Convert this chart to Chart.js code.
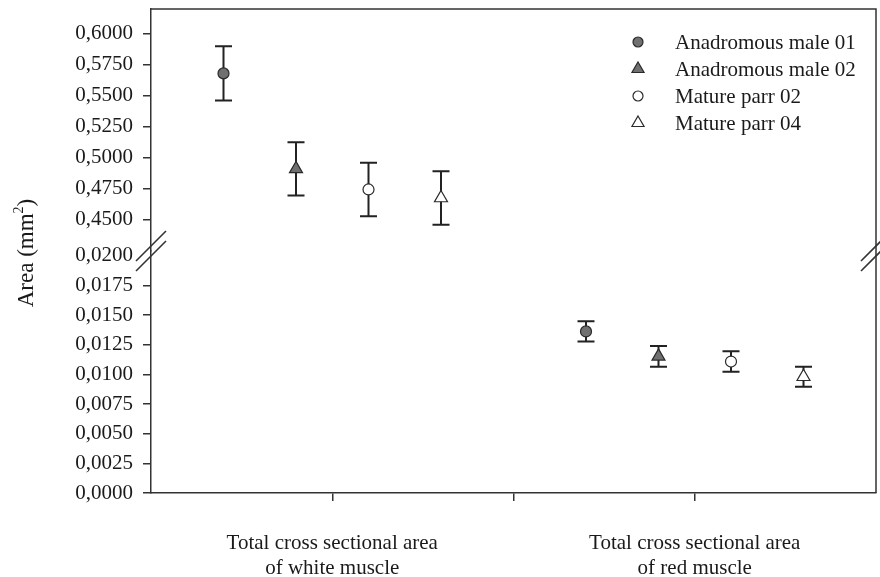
<!DOCTYPE html>
<html>
<head>
<meta charset="utf-8">
<script src="https://cdn.jsdelivr.net/npm/chart.js@4.4.1/dist/chart.umd.min.js"></script>
<style>
  html, body { margin: 0; padding: 0; background: #fff; }
</style>
</head>
<body>
<canvas id="chart" width="880" height="577"></canvas>
<script>
// data
const categories = [
    ['Total cross sectional area', 'of white muscle'],
    ['Total cross sectional area', 'of red muscle']
];
const seriesNames = ['Anadromous male 01', 'Anadromous male 02', 'Mature parr 02', 'Mature parr 04'];
const whiteMean = [0.5681, 0.4912, 0.4746, 0.4677];
const whiteErr = [0.0218, 0.0215, 0.0216, 0.0216];
const redMean = [0.01362, 0.01152, 0.01108, 0.00980];
const redErr = [0.00085, 0.00087, 0.00086, 0.00085];
const upperTicks = [0.45, 0.475, 0.5, 0.525, 0.55, 0.575, 0.6];
const lowerTicks = [0, 0.0025, 0.005, 0.0075, 0.01, 0.0125, 0.015, 0.0175, 0.02];

// group centres on the x axis and the spread of the four series around them
const groupX = [1, 3];
const seriesOffset = [-0.6, -0.2, 0.2, 0.6];
const seriesShape = ['circle', 'triangle', 'circle', 'triangle'];
const seriesFill = ['#707070', '#707070', '#ffffff', '#ffffff'];

const axisColor = '#333333';
const textColor = '#1a1a1a';
const serif = '"Liberation Serif", "Times New Roman", serif';
const font = { family: serif, size: 21, lineHeight: 1.2 };

function fmt(v) {
    return v.toFixed(4).replace('.', ',');
}

const datasets = [];
seriesNames.forEach((name, i) => {
    const style = {
        label: name,
        pointStyle: seriesShape[i],
        pointRadius: seriesShape[i] === 'circle' ? 5.5 : 7.5,
        pointBackgroundColor: seriesFill[i],
        pointBorderColor: '#2a2a2a',
        pointBorderWidth: 1.2,
        showLine: false
    };
    datasets.push(Object.assign({ yAxisID: 'yTop', data: [{ x: groupX[0] + seriesOffset[i], y: whiteMean[i] }], err: [whiteErr[i]] }, style));
    datasets.push(Object.assign({ yAxisID: 'yBot', data: [{ x: groupX[1] + seriesOffset[i], y: redMean[i] }], err: [redErr[i]] }, style));
});

// error bars, drawn under the markers
const errorBars = {
    id: 'errorBars',
    beforeDatasetsDraw(chart) {
        const ctx = chart.ctx;
        ctx.save();
        ctx.strokeStyle = '#222';
        ctx.lineWidth = 2;
        chart.data.datasets.forEach((ds, di) => {
            const meta = chart.getDatasetMeta(di);
            const ys = chart.scales[ds.yAxisID];
            meta.data.forEach((pt, j) => {
                const v = ds.data[j].y, e = ds.err[j];
                const hi = ys.getPixelForValue(v + e);
                const lo = ys.getPixelForValue(v - e);
                const x = pt.x;
                ctx.beginPath();
                ctx.moveTo(x, hi); ctx.lineTo(x, lo);
                ctx.moveTo(x - 8.5, hi); ctx.lineTo(x + 8.5, hi);
                ctx.moveTo(x - 8.5, lo); ctx.lineTo(x + 8.5, lo);
                ctx.stroke();
            });
        });
        ctx.restore();
    }
};

// frame, axis break marks, y title and legend
const decorations = {
    id: 'decorations',
    afterDraw(chart) {
        const ctx = chart.ctx;
        const a = chart.chartArea;
        ctx.save();
        ctx.strokeStyle = axisColor;
        ctx.lineWidth = 1.5;
        ctx.beginPath();
        ctx.moveTo(a.left, a.top);
        ctx.lineTo(a.right, a.top);
        ctx.lineTo(a.right, a.bottom);
        ctx.stroke();

        // break marks where the two stacked axes meet
        const yb = chart.scales.yTop.bottom;
        ctx.lineWidth = 1.6;
        [a.left, a.right].forEach(x => {
            [-5, 5].forEach(d => {
                ctx.beginPath();
                ctx.moveTo(x - 15, yb + d + 15);
                ctx.lineTo(x + 15, yb + d - 15);
                ctx.stroke();
            });
        });

        // y axis title with superscript
        ctx.fillStyle = textColor;
        ctx.translate(27, (a.top + a.bottom) / 2 + 2);
        ctx.rotate(-Math.PI / 2);
        ctx.textBaseline = 'middle';
        ctx.textAlign = 'left';
        const main = '23px ' + serif, sup = '14px ' + serif;
        ctx.font = main;
        const w1 = ctx.measureText('Area (mm').width;
        const w3 = ctx.measureText(')').width;
        ctx.font = sup;
        const w2 = ctx.measureText('2').width;
        let x0 = -(w1 + w2 + w3) / 2;
        ctx.font = main;
        ctx.fillText('Area (mm', x0, 0);
        ctx.font = sup;
        ctx.fillText('2', x0 + w1, -8);
        ctx.font = main;
        ctx.fillText(')', x0 + w1 + w2, 0);
        ctx.restore();

        // legend
        ctx.save();
        ctx.font = '21px ' + serif;
        ctx.textBaseline = 'middle';
        ctx.fillStyle = textColor;
        seriesNames.forEach((name, i) => {
            const cx = a.right - 238, cy = a.top + 33 + i * 27;
            ctx.fillStyle = seriesFill[i];
            ctx.strokeStyle = '#2a2a2a';
            ctx.lineWidth = 1.2;
            Chart.helpers.drawPoint(ctx, {
                pointStyle: seriesShape[i],
                radius: seriesShape[i] === 'circle' ? 5 : 7,
                borderWidth: 1.2
            }, cx, cy);
            ctx.fillStyle = textColor;
            ctx.fillText(name, a.right - 201, cy + 1);
        });
        ctx.restore();
    }
};

function yAxis(min, max, tickValues) {
    return {
        type: 'linear',
        position: 'left',
        stack: 'y',
        stackWeight: 1,
        min: min,
        max: max,
        afterBuildTicks: axis => { axis.ticks = tickValues.map(v => ({ value: v })); },
        afterFit: axis => {
            axis.width = 151;
            axis.paddingTop = 0;
            axis.paddingBottom = 0;
        },
        grid: {
            drawOnChartArea: false,
            tickLength: 8,
            lineWidth: 1.5,
            tickColor: c => (c.tick && Math.abs(c.tick.value - 0.02) < 1e-9) ? 'rgba(0,0,0,0)' : axisColor
        },
        border: { color: axisColor, width: 1.5 },
        ticks: {
            font: font,
            color: textColor,
            padding: 10,
            autoSkip: false,
            callback: v => fmt(v)
        }
    };
}

new Chart(document.getElementById('chart'), {
    type: 'scatter',
    data: { datasets: datasets },
    options: {
        responsive: false,
        animation: false,
        layout: { autoPadding: false, padding: { top: 9, right: 4, left: 0, bottom: 0 } },
        plugins: {
            legend: { display: false },
            tooltip: { enabled: false }
        },
        scales: {
            x: {
                type: 'linear',
                min: 0,
                max: 4,
                afterBuildTicks: axis => { axis.ticks = [1, 2, 3].map(v => ({ value: v })); },
                afterFit: axis => {
                    axis.height = 84;
                    axis.paddingLeft = 0;
                    axis.paddingRight = 0;
                },
                grid: { drawOnChartArea: false, tickLength: 8, lineWidth: 1.5, color: axisColor },
                border: { color: axisColor, width: 1.5 },
                ticks: {
                    font: font,
                    color: textColor,
                    padding: 30,
                    maxRotation: 0,
                    autoSkip: false,
                    callback: v => v === groupX[0] ? categories[0] : (v === groupX[1] ? categories[1] : '')
                }
            },
            yBot: yAxis(0, 0.0204, lowerTicks),
            yTop: yAxis(0.425, 0.62, upperTicks)
        }
    },
    plugins: [errorBars, decorations]
});
</script>
</body>
</html>
